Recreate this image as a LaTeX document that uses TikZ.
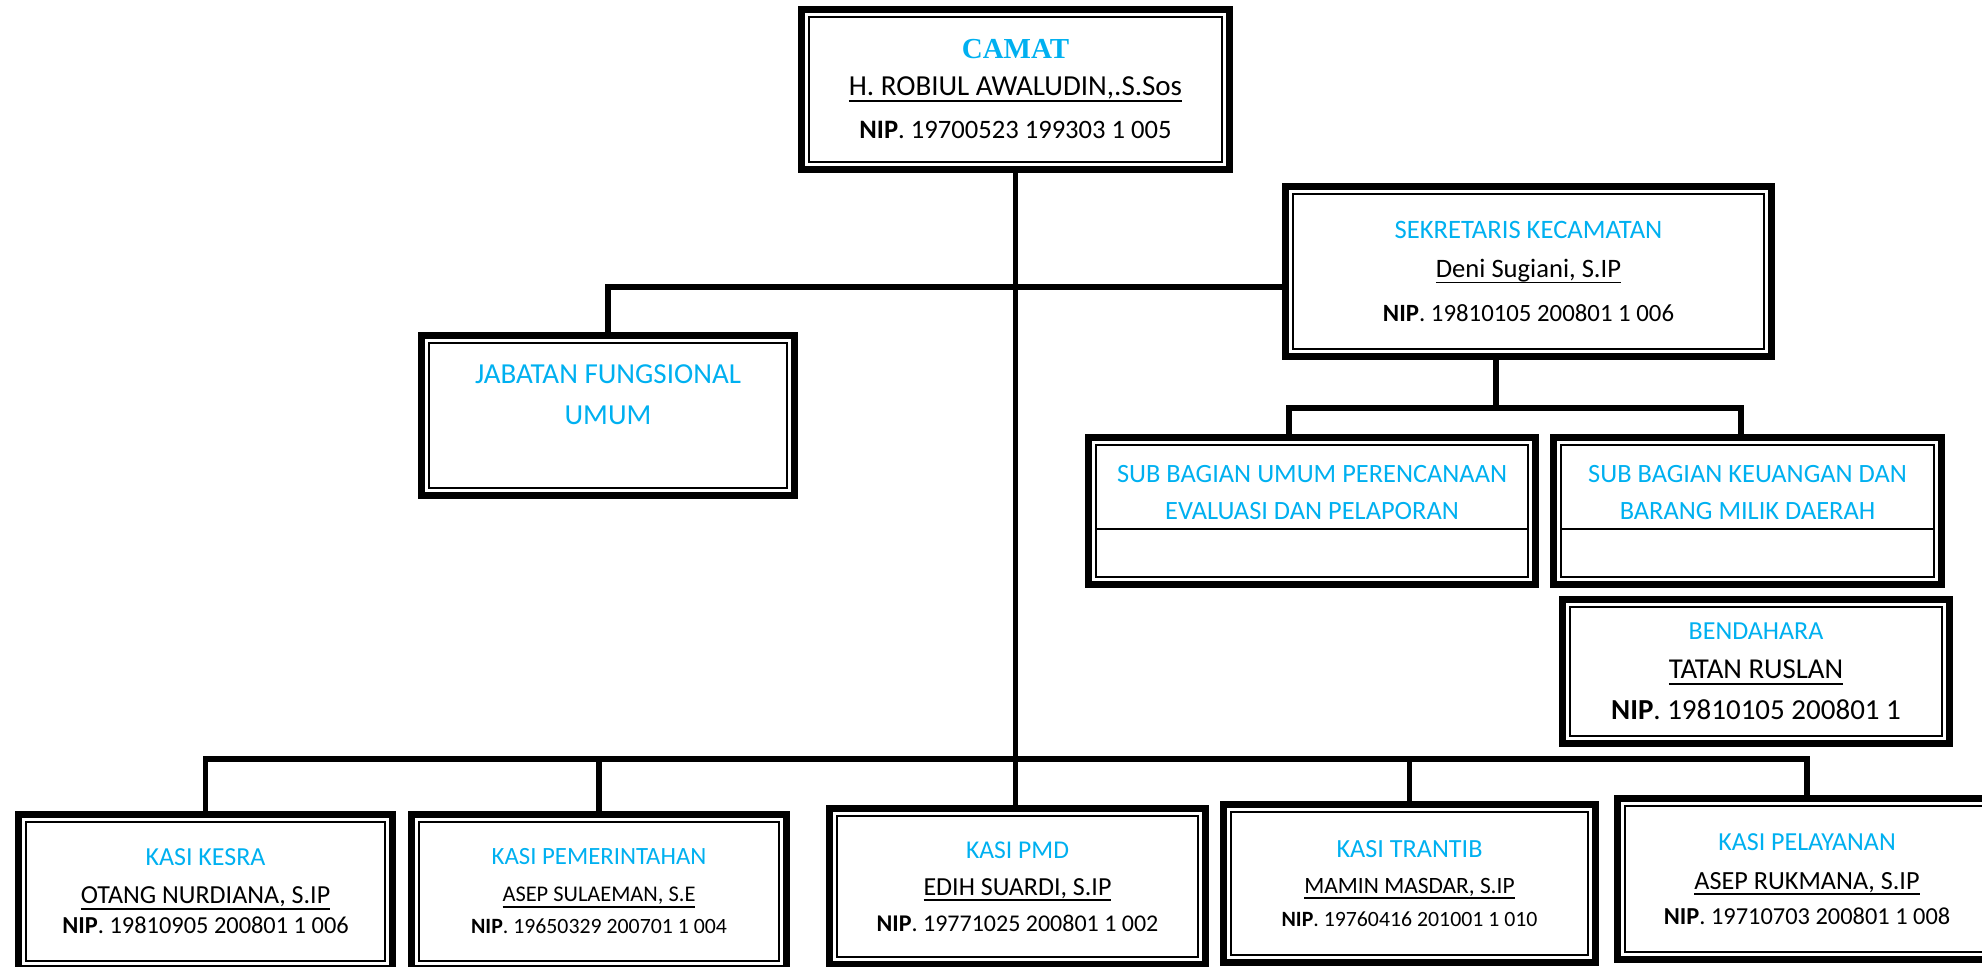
\documentclass[tikz,border=0pt]{standalone}
\usepackage{fontspec}
\setmainfont{Carlito}
\newfontfamily\titleserif{Liberation Serif}
\usetikzlibrary{calc}
\definecolor{titleblue}{HTML}{00B0F0}
\newsavebox\namebox
\newcommand{\pname}[1]{\sbox\namebox{#1}\rlap{\rule[-2.9pt]{\wd\namebox}{0.9pt}}\usebox\namebox}
\newcommand{\nip}[1]{\textbf{NIP}. #1}
\newcommand{\post}[1]{\textcolor{titleblue}{#1}}
\newcommand{\setfs}[2]{\fontsize{#1}{#2}\selectfont}

\begin{document}
\begin{tikzpicture}[x=0.5pt,y=-0.5pt,
 unitbox/.style 2 args={draw,line width=3.5pt,inner sep=0pt,align=center,minimum width=#1,minimum height=#2,
  path picture={\draw[line width=1pt] ([shift={(3.75pt,-3.75pt)}]path picture bounding box.north west) rectangle ([shift={(-3.75pt,3.75pt)}]path picture bounding box.south east);}},
 link/.style={line width=2.7pt}]
\useasboundingbox (0,0) rectangle (1982,967);
\clip (0,0) rectangle (1982,967);
\node[unitbox={214pt}{80pt},font=\setfs{13.3}{18.5}] (camat) at (1015.5,89.5) {{\titleserif\bfseries\setfs{14.5}{18.5}\post{CAMAT}}\\ {\setfs{14.5}{18.5}\pname{H. ROBIUL AWALUDIN,.S.Sos}}\\[3pt] \nip{19700523 199303 1 005}};
\node[unitbox={243pt}{85pt},font=\setfs{13.3}{19.5}] (sekcam) at (1528.5,271.5) {\post{SEKRETARIS KECAMATAN}\\ \pname{Deni Sugiani, S.IP}\\[2.5pt] {\setfs{12.4}{19.5}\nip{19810105 200801 1 006}}};
\node[unitbox={186.5pt}{80pt},font=\setfs{14.5}{20.5}] (jfu) at (608,415.5) {\post{JABATAN FUNGSIONAL}\\ \post{UMUM}\\ \mbox{}};
\node[unitbox={223.5pt}{73.5pt},font=\setfs{13.2}{18.5}] (subum) at (1312,511) {\post{SUB BAGIAN UMUM PERENCANAAN}\\ \post{EVALUASI DAN PELAPORAN}\\ \mbox{}};
\node[unitbox={194pt}{73.5pt},font=\setfs{13.2}{18.5}] (subkeu) at (1747.5,511) {\post{SUB BAGIAN KEUANGAN DAN}\\ \post{BARANG MILIK DAERAH}\\ \mbox{}};
\node[unitbox={193.5pt}{72pt},font=\setfs{13}{19.5}] (bendahara) at (1756,671.5) {\post{BENDAHARA}\\ {\setfs{14.4}{19.5}\pname{TATAN RUSLAN}}\\[1pt] {\setfs{14.5}{19.5}\nip{19810105 200801 1}}};
\node[unitbox={187pt}{77pt},font=\setfs{13}{19}] (kesra) at (205.5,891.5) {\post{KASI KESRA}\\ \pname{OTANG NURDIANA, S.IP}\\[-4pt] {\setfs{12.2}{19}\nip{19810905 200801 1 006}}};
\node[unitbox={187.5pt}{77pt},font=\setfs{12.4}{18.5}] (pem) at (599,891.5) {\post{KASI PEMERINTAHAN}\\ {\setfs{11.2}{18.5}\pname{ASEP SULAEMAN, S.E}}\\[-2.5pt] {\setfs{10.9}{18.5}\nip{19650329 200701 1 004}}};
\node[unitbox={188pt}{78pt},font=\setfs{12.8}{18.5}] (pmd) at (1017.5,886.5) {\post{KASI PMD}\\ {\setfs{13}{18.5}\pname{EDIH SUARDI, S.IP}}\\[-0.5pt] {\setfs{12}{18.5}\nip{19771025 200801 1 002}}};
\node[unitbox={186pt}{79pt},font=\setfs{13.1}{18}] (trantib) at (1409.5,883.5) {\post{KASI TRANTIB}\\ {\setfs{11.7}{18}\pname{MAMIN MASDAR, S.IP}}\\[-1.5pt] {\setfs{10.9}{18}\nip{19760416 201001 1 010}}};
\node[unitbox={189.5pt}{80.5pt},font=\setfs{13}{19.5}] (pelayanan) at (1807,879) {\post{KASI PELAYANAN}\\ {\setfs{13.1}{19.5}\pname{ASEP RUKMANA, S.IP}}\\[-2pt] {\setfs{12.2}{19.5}\nip{19710703 200801 1 008}}};
\foreach \n in {subum,subkeu}
  \draw[line width=1.2pt] ($(\n.west)+(5.5pt,-9pt)$) -- ($(\n.east)+(-5.5pt,-9pt)$);
\coordinate (jbus) at (0,287);
\coordinate (bus) at (0,759);
\coordinate (sbus) at (1496,408);
\coordinate (sa) at (1289,408);
\coordinate (sb) at (1741,408);
\draw[link] (camat.south) -- (camat.south |- pmd.north);
\draw[link] (sekcam.west |- jbus) -| (jfu.north);
\draw[link] (sbus |- sekcam.south) -- (sbus);
\draw[link] (sa |- subum.north) -- (sa) -- (sb) -- (sb |- subkeu.north);
\draw[link] (kesra.north) -- (kesra.north |- bus) -- (pelayanan.north |- bus) -- (pelayanan.north);
\foreach \n in {pem,trantib}
  \draw[link] (\n.north) -- (\n.north |- bus);
\end{tikzpicture}
\end{document}
